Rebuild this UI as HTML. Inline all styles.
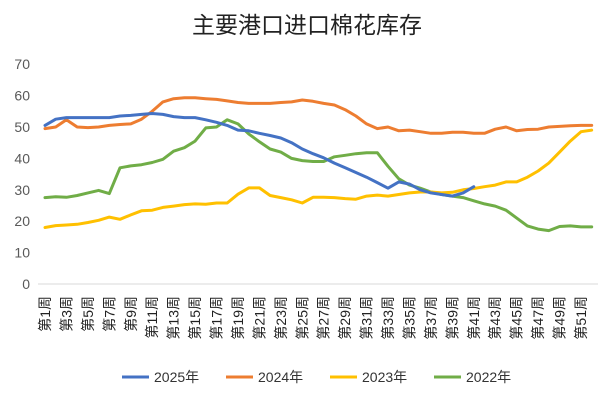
<!DOCTYPE html>
<html><head><meta charset="utf-8"><style>
body{margin:0;background:#fff;}
svg{display:block;font-family:"Liberation Sans","Noto Sans CJK SC",sans-serif;}
</style></head><body>
<svg id="c" width="615" height="400" xmlns="http://www.w3.org/2000/svg">
<rect width="615" height="400" fill="#fff"/>
<text x="307" y="33" text-anchor="middle" font-size="23" fill="#222">主要港口进口棉花库存</text>
<g id="g"></g>
</svg>
<script>
const g=document.getElementById('g');
const X=n=>45+(n-1)*10.72, Y=v=>284-v*3.14;
let h='';
for(let v=0;v<=70;v+=10)h+=`<text x="30" y="${Y(v)+5}" text-anchor="end" font-size="14" fill="#595959">${v}</text>`;
h+=`<line x1="38" y1="284" x2="598" y2="284" stroke="#d9d9d9" stroke-width="1"/>`;
for(let n=1;n<=51;n+=2)h+=`<text transform="translate(${X(n)+5},296) rotate(-90)" text-anchor="end" font-size="14" fill="#222">第${n}周</text>`;
const S={
'#4472c4':[50.5,52.5,53,53,53,53,53,53.5,53.7,54,54.3,54,53.3,53,53,52.3,51.5,50.5,49,48.8,48,47.3,46.5,45,43,41.5,40.2,38.5,37,35.5,34,32.3,30.5,32.5,31.8,30,29,28.5,28,29,31],
'#ed7d31':[49.5,50,52.3,50,49.8,50,50.5,50.8,51,52.5,55,58,59,59.3,59.3,59,58.8,58.3,57.8,57.5,57.5,57.5,57.8,58,58.6,58.2,57.5,57,55.5,53.5,51,49.5,50,48.8,49,48.5,48,48,48.3,48.3,48,48,49.3,50,48.8,49.2,49.3,50,50.2,50.4,50.5,50.5],
'#ffc000':[18,18.6,18.8,19,19.6,20.3,21.3,20.6,22,23.3,23.5,24.4,24.8,25.3,25.5,25.4,25.8,25.8,28.6,30.6,30.6,28.2,27.5,26.8,25.8,27.6,27.6,27.5,27.2,27,28,28.3,28,28.5,29,29.3,29.3,29,29.2,30,30.4,31,31.5,32.5,32.5,34,36,38.5,42,45.5,48.5,49],
'#70ad47':[27.5,27.8,27.6,28.2,29,29.8,28.8,37,37.6,38,38.7,39.7,42.3,43.4,45.5,49.7,50,52.3,51,47.8,45.3,43,42,40,39.3,39,39,40.5,41,41.5,41.8,41.8,37.5,33.5,31.5,30.5,29.3,28.5,28,27.5,26.5,25.5,24.8,23.5,21,18.5,17.5,17,18.3,18.5,18.2,18.2]};
const order=['#70ad47','#ffc000','#ed7d31','#4472c4'];
for(const c of order){h+=`<polyline fill="none" stroke="${c}" stroke-width="3" stroke-linejoin="round" stroke-linecap="round" points="${S[c].map((v,i)=>X(i+1).toFixed(1)+','+Y(v).toFixed(1)).join(' ')}"/>`;}
const L=[['#4472c4','2025年',122],['#ed7d31','2024年',226],['#ffc000','2023年',330],['#70ad47','2022年',434]];
for(const [c,t,x] of L){h+=`<line x1="${x}" y1="377" x2="${x+27}" y2="377" stroke="${c}" stroke-width="3"/><text x="${x+32}" y="382" font-size="14" fill="#333">${t}</text>`;}
g.innerHTML=h;
</script>
</body></html>
